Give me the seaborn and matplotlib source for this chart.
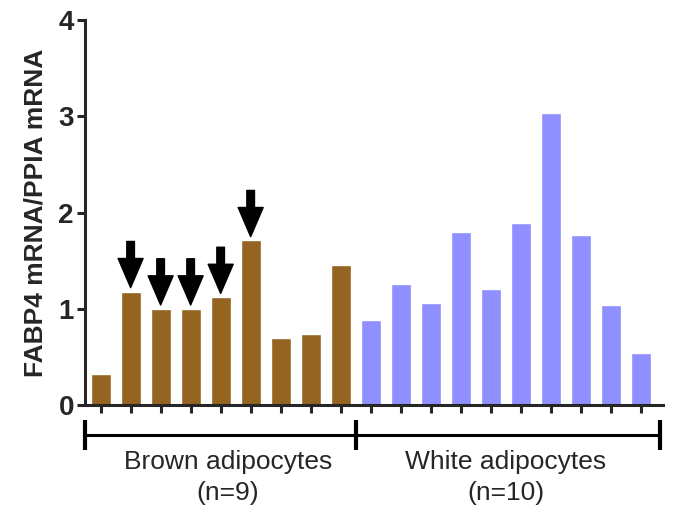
import seaborn as sns
import matplotlib.pyplot as plt
import pandas as pd

brown_vals = [0.32, 1.18, 1.00, 1.00, 1.12, 1.71, 0.70, 0.74, 1.46]
white_vals = [0.88, 1.26, 1.06, 1.80, 1.21, 1.89, 3.03, 1.77, 1.04, 0.54]
arrow_idx = [1, 2, 3, 4, 5]
group_labels = ["Brown adipocytes\n(n=9)", "White adipocytes\n(n=10)"]
y_label = "FABP4 mRNA/PPIA mRNA"
y_ticks = [0, 1, 2, 3, 4]

values = brown_vals + white_vals
df = pd.DataFrame({
    "sample": [str(i) for i in range(len(values))],
    "value": values,
    "group": ["brown"] * len(brown_vals) + ["white"] * len(white_vals),
})

sns.set_style("ticks")
plt.rcParams['font.family'] = ['Liberation Sans', 'DejaVu Sans']

fig = plt.figure(figsize=(6.91, 5.16), dpi=100)
ax = fig.add_axes([0.123, 0.215, 0.837, 0.746])

sns.barplot(data=df, x="sample", y="value", hue="group",
            palette={"brown": "#946420", "white": "#8F8FFF"},
            dodge=False, legend=False, width=0.67, ax=ax, saturation=1)

ax.set_xlim(-0.52, 18.75)
ax.set_ylim(0, 4)
ax.set_yticks(y_ticks)
ax.set_yticklabels([str(t) for t in y_ticks], fontsize=20, fontweight="bold")
ax.set_xticklabels([])
ax.set_xlabel("")
ax.set_ylabel(y_label, fontsize=19, fontweight="bold", labelpad=8)
ax.tick_params(axis="both", length=6, width=2.2, direction="out", pad=2)
for s in ["top", "right"]:
    ax.spines[s].set_visible(False)
for s in ["left", "bottom"]:
    ax.spines[s].set_linewidth(2.2)

# arrows over marked brown bars
for i in arrow_idx:
    h = values[i]
    ax.annotate("", xy=(i, h + 0.04), xytext=(i, h + 0.52),
                arrowprops=dict(arrowstyle="simple,head_length=2.1,head_width=1.8,tail_width=0.55",
                                fc="black", ec="black", shrinkA=0, shrinkB=0,
                                mutation_scale=10))

# group brackets
n_b = len(brown_vals)
n_all = len(values)
yb = -0.31
ax.plot([-0.52, n_all - 0.36], [yb, yb], color="black", lw=2.2, clip_on=False)
for xe in [-0.52, n_b - 0.5, n_all - 0.36]:
    ax.plot([xe, xe], [-0.16, -0.47], color="black", lw=3, clip_on=False,
            solid_capstyle="butt")
ax.text(4.24, -0.47, group_labels[0], ha="center", va="top", fontsize=19,
        linespacing=1.35)
ax.text(13.5, -0.47, group_labels[1], ha="center", va="top", fontsize=19,
        linespacing=1.35)

fig.savefig("out.png", dpi=100)
